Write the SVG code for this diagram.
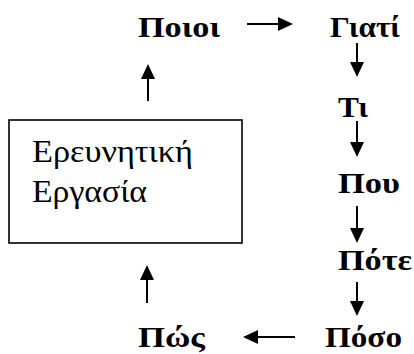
<svg xmlns="http://www.w3.org/2000/svg" width="414" height="354" viewBox="0 0 414 354">
  <style>
    .lbl { font-family: "Liberation Serif", "Times New Roman", serif; font-weight: bold; font-size: 29px; fill: #000; }
    .box-txt { font-family: "Liberation Serif", "Times New Roman", serif; font-size: 32px; fill: #000; }
    .box { fill: #fff; stroke: #000; stroke-width: 1.6; }
    .conn { stroke: #000; stroke-width: 2; fill: none; marker-end: url(#arrow); }
  </style>
  <defs>
    <marker id="arrow" markerUnits="userSpaceOnUse" viewBox="0 0 15 14" markerWidth="15" markerHeight="14" refX="11" refY="7" orient="auto">
      <path d="M0,0 L15,7 L0,14 z" fill="#000"/>
    </marker>
  </defs>
  <rect width="414" height="354" fill="#fff"/>

  <g id="node-ereunitiki">
    <rect class="box" x="9" y="120" width="233" height="123"/>
    <text class="box-txt" x="32" y="162" textLength="161" lengthAdjust="spacingAndGlyphs">Ερευνητική</text>
    <text class="box-txt" x="32" y="202" textLength="115" lengthAdjust="spacingAndGlyphs">Εργασία</text>
  </g>
  <g id="node-poioi"><text class="lbl" x="138" y="37" textLength="82" lengthAdjust="spacingAndGlyphs">Ποιοι</text></g>
  <g id="node-giati"><text class="lbl" x="330" y="37" textLength="70" lengthAdjust="spacingAndGlyphs">Γιατί</text></g>
  <g id="node-ti"><text class="lbl" x="338" y="117" textLength="30" lengthAdjust="spacingAndGlyphs">Τι</text></g>
  <g id="node-pou"><text class="lbl" x="338" y="193" textLength="62" lengthAdjust="spacingAndGlyphs">Που</text></g>
  <g id="node-pote"><text class="lbl" x="338" y="270" textLength="74" lengthAdjust="spacingAndGlyphs">Πότε</text></g>
  <g id="node-poso"><text class="lbl" x="325" y="347" textLength="77" lengthAdjust="spacingAndGlyphs">Πόσο</text></g>
  <g id="node-pos"><text class="lbl" x="138" y="347" textLength="67" lengthAdjust="spacingAndGlyphs">Πώς</text></g>

  <g id="connectors">
    <line class="conn" x1="247" y1="24" x2="289" y2="24"/>
    <line class="conn" x1="357" y1="43" x2="357" y2="73"/>
    <line class="conn" x1="357" y1="121" x2="357" y2="153"/>
    <line class="conn" x1="357" y1="206" x2="357" y2="239"/>
    <line class="conn" x1="357" y1="282" x2="357" y2="312"/>
    <line class="conn" x1="295" y1="337" x2="247" y2="337"/>
    <line class="conn" x1="147" y1="303" x2="147" y2="269"/>
    <line class="conn" x1="148" y1="101" x2="148" y2="68"/>
  </g>
</svg>
